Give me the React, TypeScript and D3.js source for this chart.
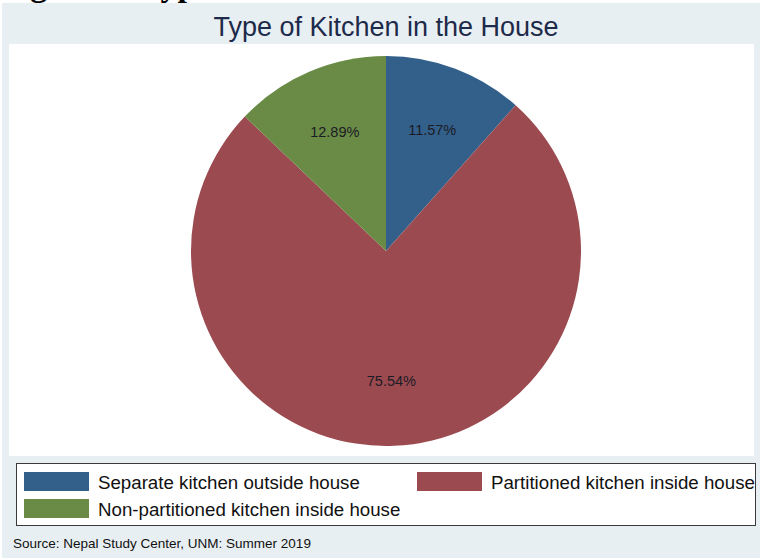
import React from "react";
import * as d3 from "d3";

const categories = [
  "Separate kitchen outside house",
  "Partitioned kitchen inside house",
  "Non-partitioned kitchen inside house",
];
const values = [11.57, 75.54, 12.89];
const sliceLabels = ["11.57%", "75.54%", "12.89%"];
const palette = ["#33608A", "#9B4A50", "#6A8B45"];

const W = 760;
const H = 558;

export default function App() {
  const cx = 386;
  const cy = 251;
  const R = 195;
  const labelR = 130;

  const pie = d3
    .pie<number>()
    .sort(null)
    .value((d) => d);
  const arcs = pie(values);
  const arc = d3.arc<d3.PieArcDatum<number>>().innerRadius(0).outerRadius(R);
  const labelArc = d3
    .arc<d3.PieArcDatum<number>>()
    .innerRadius(labelR)
    .outerRadius(labelR);

  const font = "'Liberation Sans', Arial, Helvetica, sans-serif";

  // legend item placement (row, column)
  const legendPos = [
    { x: 24, y: 472 },
    { x: 417, y: 472 },
    { x: 24, y: 499 },
  ];

  return (
    <svg
      width={W}
      height={H}
      style={{ position: "absolute", left: 0, top: 0, display: "block" }}
    >
      <rect x={0} y={0} width={W} height={H} fill="#ffffff" />
      <text
        x={0}
        y={-4}
        fontFamily="'Liberation Serif', 'Times New Roman', serif"
        fontWeight="bold"
        fontSize={34}
        fill="#000"
      >
        Figure 7: Type of Kitchen in the House
      </text>
      <rect x={2} y={3} width={W - 2} height={H - 3} fill="#E8EFF2" />
      <text
        x={386}
        y={36}
        textAnchor="middle"
        fontFamily={font}
        fontSize={27}
        fill="#1E2A4A"
      >
        Type of Kitchen in the House
      </text>
      <rect x={9} y={44} width={745} height={412} fill="#ffffff" />
      <g transform={`translate(${cx},${cy})`}>
        {arcs.map((a, i) => (
          <path key={i} d={arc(a) || ""} fill={palette[i]} />
        ))}
        {arcs.map((a, i) => {
          const [lx, ly] = labelArc.centroid(a);
          return (
            <text
              key={"l" + i}
              x={lx}
              y={ly}
              dy="0.36em"
              textAnchor="middle"
              fontFamily={font}
              fontSize={14.5}
              fill="#1b1b26"
            >
              {sliceLabels[i]}
            </text>
          );
        })}
      </g>
      <rect
        x={16.5}
        y={463.5}
        width={739}
        height={62}
        fill="#ffffff"
        stroke="#3a3a3a"
        strokeWidth={1}
      />
      {categories.map((c, i) => (
        <g key={"lg" + i}>
          <rect
            x={legendPos[i].x}
            y={legendPos[i].y}
            width={65}
            height={19}
            fill={palette[i]}
          />
          <text
            x={legendPos[i].x + 74}
            y={legendPos[i].y + 17}
            fontFamily={font}
            fontSize={18.7}
            fill="#111"
          >
            {c}
          </text>
        </g>
      ))}
      <text x={13} y={548} fontFamily={font} fontSize={13.5} fill="#111">
        Source: Nepal Study Center, UNM: Summer 2019
      </text>
    </svg>
  );
}
